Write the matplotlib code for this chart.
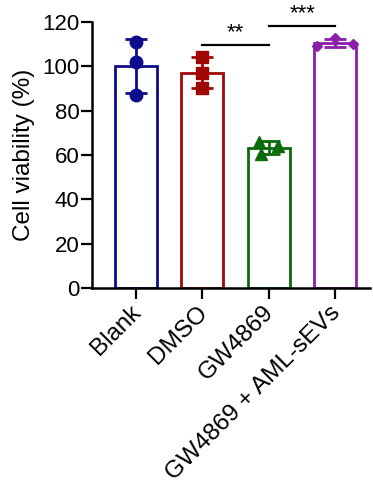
import matplotlib
matplotlib.use("Agg")
import matplotlib.pyplot as plt
import numpy as np

plt.rcParams['font.family'] = ['Liberation Sans', 'DejaVu Sans']

categories = ["Blank", "DMSO", "GW4869", "GW4869 + AML-sEVs"]
points = [
    [111.2, 101.8, 87.3],
    [104.2, 97.0, 90.3],
    [65.8, 60.4, 64.0],
    [109.3, 112.7, 110.2],
]
jitter = [
    [0.0, 0.0, 0.0],
    [0.0, 0.0, 0.0],
    [-0.15, -0.12, 0.14],
    [-0.28, 0.0, 0.27],
]
colors = ["#0c0c8c", "#a00808", "#0b6b0b", "#8a1fa8"]
markers = ["o", "s", "^", "D"]
msizes = [9, 8, 8, 5.5]
yticks = [0, 20, 40, 60, 80, 100, 120]
sig = [(1, 2, 109.5, "**"), (2, 3, 118.2, "***")]

fig = plt.figure(figsize=(3.73, 4.90), dpi=100)
ax = fig.add_axes([0.2466, 0.412, 0.992 - 0.2466, 0.955 - 0.412])

x = np.arange(len(categories))
means = [np.mean(p) for p in points]
sds = [np.std(p, ddof=1) for p in points]

for i in range(len(categories)):
    ax.bar(x[i], means[i], width=0.63, facecolor="white", edgecolor=colors[i],
           linewidth=2, zorder=2)
    ax.errorbar(x[i], means[i], yerr=sds[i], color=colors[i], capsize=8,
                elinewidth=2, capthick=2, zorder=3, fmt="none")
    ax.plot(x[i] + np.array(jitter[i]), points[i], linestyle="none",
            marker=markers[i], markersize=msizes[i], color=colors[i], zorder=4)

for a, b, y, txt in sig:
    ax.plot([a, b], [y, y], color="black", linewidth=1.6, clip_on=False)
    ax.text((a + b) / 2, y + 0.8, txt, ha="center", va="bottom", fontsize=16)

ax.set_xlim(-0.66, 3.52)
ax.set_ylim(0, 120)
ax.set_yticks(yticks)
ax.set_xticks(x)
ax.set_xticklabels(categories, rotation=45, ha="right", va="center_baseline",
                   rotation_mode="anchor", fontsize=17.5)
ax.tick_params(axis="y", labelsize=16, width=1.6, length=8, pad=1)
ax.tick_params(axis="x", width=1.6, length=8, pad=6)
ax.set_ylabel("Cell viability (%)", fontsize=17.5, labelpad=5)
for s in ["top", "right"]:
    ax.spines[s].set_visible(False)
for s in ["left", "bottom"]:
    ax.spines[s].set_linewidth(1.8)

fig.savefig("out.png", dpi=100)
